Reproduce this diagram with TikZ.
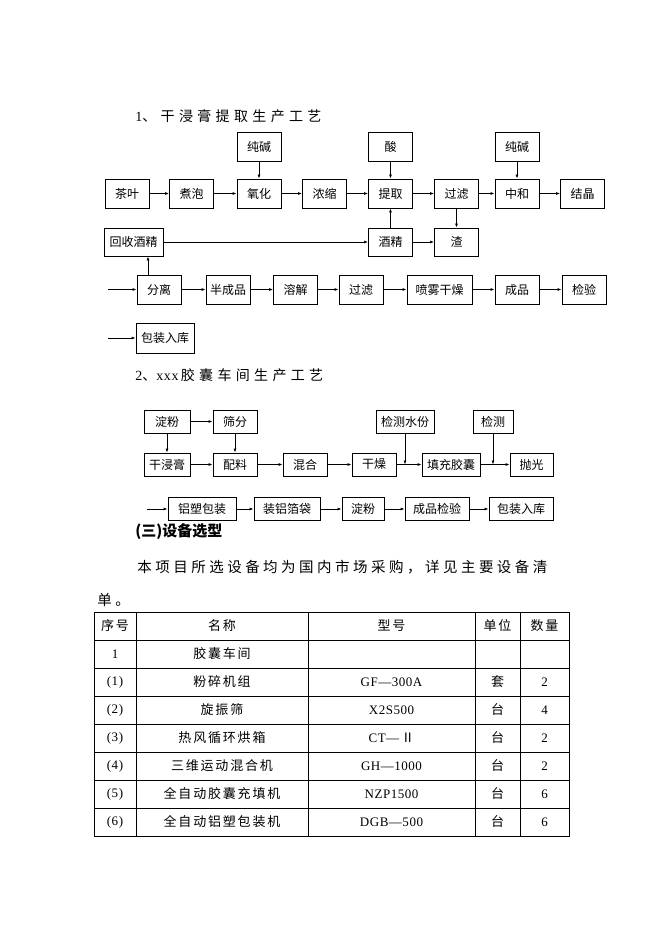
\documentclass[tikz,border=0pt]{standalone}
\usepackage{fontspec}
\setmainfont{Liberation Serif}
\newfontfamily\cjk{Noto Sans CJK SC}
\newfontfamily\cjkwide[LetterSpace=24]{Noto Sans CJK SC}
\newfontfamily\cjktitle[LetterSpace=31]{Noto Sans CJK SC}
\newfontfamily\cjktab[LetterSpace=14]{Noto Sans CJK SC}
\newfontfamily\serwide[LetterSpace=4]{Liberation Serif}
\newcommand{\zh}[1]{{\cjktab #1}}
\usetikzlibrary{arrows.meta}

\begin{document}
\begin{tikzpicture}[x=1pt,y=-1pt,line width=0.8pt,>={Latex[length=4pt,width=3pt]},
    box/.style={draw,minimum width=44pt,minimum height=29pt,inner sep=0pt,
      font={\cjk\fontsize{12}{14}\selectfont}},
    sbox/.style={box,minimum height=23pt},
    txt/.style={anchor=west,inner sep=0pt},
    cell/.style={inner sep=0pt,font={\serwide\fontsize{13}{15}\selectfont}}]
  \useasboundingbox[fill=white] (0,0) rectangle (662,936);

  % titles and text
  \node[txt,font={\fontsize{14}{16}\selectfont}] (titleA) at (135,116) {1{\cjktitle 、干浸膏提取生产工艺}};
  \node[txt,font={\fontsize{14}{16}\selectfont}] (titleB) at (135,375) {2{\cjktitle 、}{\serwide xxx}\,{\cjktitle 胶囊车间生产工艺}};
  \node[txt,font={\cjk\bfseries\fontsize{15}{17}\selectfont}] (titleC) at (135,532) {(三)设备选型};
  \node[txt,font={\cjkwide\fontsize{14.5}{17}\selectfont}] (para) at (137,567) {本项目所选设备均为国内市场采购，详见主要设备清};
  \node[txt,font={\cjkwide\fontsize{14.5}{17}\selectfont}] (paraend) at (97,600) {单。};

  % chart 1
  \node[box] (chaye) at (127,193.5) {茶叶};
  \node[box] (zhupao) at (191.5,193.5) {煮泡};
  \node[box] (yanghua) at (259,193.5) {氧化};
  \node[box] (nongsuo) at (324.5,193.5) {浓缩};
  \node[box] (tiqu) at (390.5,193.5) {提取};
  \node[box] (guolv) at (456.5,193.5) {过滤};
  \node[box] (zhonghe) at (517,193.5) {中和};
  \node[box] (jiejing) at (582.5,193.5) {结晶};
  \node[box] (chunjianA) at (259,146.5) {纯碱};
  \node[box] (suan) at (390.5,146.5) {酸};
  \node[box] (chunjianB) at (517,146.5) {纯碱};
  \node[box,minimum width=59pt,minimum height=28pt] (huishou) at (133.5,242) {回收酒精};
  \node[box,minimum height=28pt] (jiujing) at (390.5,242) {酒精};
  \node[box,minimum height=28pt] (zha) at (456.5,242) {渣};
  \node[box] (fenli) at (159,289.5) {分离};
  \node[box] (banchengpin) at (228,289.5) {半成品};
  \node[box] (rongjie) at (295.5,289.5) {溶解};
  \node[box] (guolvB) at (361,289.5) {过滤};
  \node[box,minimum width=65pt] (penwu) at (439.5,289.5) {喷雾干燥};
  \node[box] (chengpin) at (517,289.5) {成品};
  \node[box] (jianyan) at (584,289.5) {检验};
  \node[box,minimum width=58pt,minimum height=30pt] (baozhuangA) at (165,338) {包装入库};
  \coordinate (inA) at (108,289.5);
  \coordinate (inB) at (108,338);

  \foreach \a/\b in {chaye/zhupao,zhupao/yanghua,yanghua/nongsuo,nongsuo/tiqu,
      tiqu/guolv,guolv/zhonghe,zhonghe/jiejing,chunjianA/yanghua,suan/tiqu,
      chunjianB/zhonghe,guolv/zha,jiujing/tiqu,huishou/jiujing,jiujing/zha,
      inA/fenli,fenli/banchengpin,banchengpin/rongjie,rongjie/guolvB,
      guolvB/penwu,penwu/chengpin,chengpin/jianyan,inB/baozhuangA}
    \draw[->] (\a) -- (\b);
  \draw[->] ([xshift=-11pt]fenli.north) -- ([xshift=-11pt]fenli.north |- huishou.south);

  % chart 2
  \node[sbox,minimum width=46pt] (dianfenA) at (167,421.5) {淀粉};
  \node[sbox] (shaifen) at (235,421.5) {筛分};
  \node[sbox,minimum width=58pt] (jcshuifen) at (405,421.5) {检测水份};
  \node[sbox,minimum width=40pt] (jiance) at (493,421.5) {检测};
  \node[sbox,minimum width=46pt] (ganjingao) at (167,464.5) {干浸膏};
  \node[sbox] (peiliao) at (235,464.5) {配料};
  \node[sbox] (hunhe) at (305,464.5) {混合};
  \node[sbox] (ganzao) at (374,464.5) {干燥};
  \node[sbox,minimum width=58pt] (tianchong) at (451,464.5) {填充胶囊};
  \node[sbox,minimum width=43pt] (paoguang) at (531.5,464.5) {抛光};
  \node[sbox,minimum width=68pt] (lvsu) at (202,509) {铝塑包装};
  \node[sbox,minimum width=66pt] (zhuanglv) at (287,509) {装铝箔袋};
  \node[sbox,minimum width=42pt] (dianfenB) at (363,509) {淀粉};
  \node[sbox,minimum width=64pt] (cpjianyan) at (437,509) {成品检验};
  \node[sbox,minimum width=64pt] (baozhuangB) at (521,509) {包装入库};
  \coordinate (inC) at (147,509);

  \foreach \a/\b in {dianfenA/shaifen,dianfenA/ganjingao,shaifen/peiliao,
      ganjingao/peiliao,peiliao/hunhe,hunhe/ganzao,ganzao/tianchong,
      tianchong/paoguang,inC/lvsu,lvsu/zhuanglv,zhuanglv/dianfenB,
      dianfenB/cpjianyan,cpjianyan/baozhuangB}
    \draw[->] (\a) -- (\b);
  \draw[->] (jcshuifen.south) -- (jcshuifen.south |- ganzao.east);
  \draw[->] (jiance.south) -- (jiance.south |- tianchong.east);

  % table
  \draw[line width=0.7pt] (94,612) rectangle (569,836);
  \foreach \y in {640,668,...,808}
    \draw[line width=0.7pt] (94,\y) -- (569,\y);
  \foreach \x in {136,308,475,520}
    \draw[line width=0.7pt] (\x,612) -- (\x,836);
  \foreach \a/\b/\c/\d/\e [count=\i from 0] in {
      \zh{序号}/\zh{名称}/\zh{型号}/\zh{单位}/\zh{数量},
      1/\zh{胶囊车间}/{}/{}/{},
      (1)/\zh{粉碎机组}/GF—300A/\zh{套}/2,
      (2)/\zh{旋振筛}/X2S500/\zh{台}/4,
      (3)/\zh{热风循环烘箱}/CT—\,{\cjk Ⅱ}/\zh{台}/2,
      (4)/\zh{三维运动混合机}/GH—1000/\zh{台}/2,
      (5)/\zh{全自动胶囊充填机}/NZP1500/\zh{台}/6,
      (6)/\zh{全自动铝塑包装机}/DGB—500/\zh{台}/6} {
    \node[cell] (no\i) at (115,626+28*\i) {\a};
    \node[cell] (name\i) at (222,626+28*\i) {\b};
    \node[cell] (type\i) at (391.5,626+28*\i) {\c};
    \node[cell] (unit\i) at (497.5,626+28*\i) {\d};
    \node[cell] (num\i) at (544.5,626+28*\i) {\e};
  }
\end{tikzpicture}
\end{document}
